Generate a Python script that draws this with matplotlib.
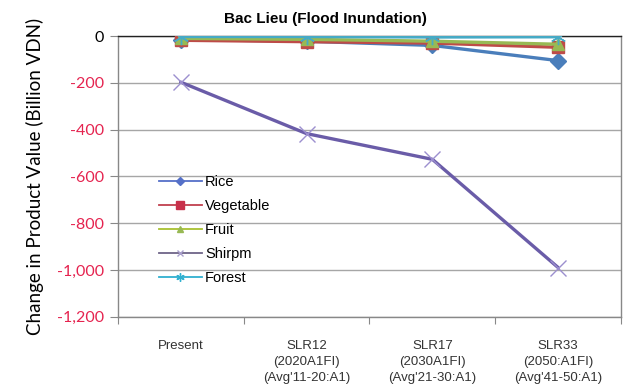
import matplotlib
matplotlib.use("Agg")
import matplotlib.pyplot as plt
from matplotlib.lines import Line2D
from matplotlib.ticker import FuncFormatter

# Scenario categories and change in product value (billion VND)
categories = ["Present",
              "SLR12\n(2020A1FI)\n(Avg'11-20:A1)",
              "SLR17\n(2030A1FI)\n(Avg'21-30:A1)",
              "SLR33\n(2050:A1FI)\n(Avg'41-50:A1)"]
rice = [-15, -22, -40, -105]
vegetable = [-18, -24, -30, -48]
fruit = [-10, -14, -22, -35]
shrimp = [-197, -417, -527, -990]
forest = [-2, -2, -4, -3]
series_names = ["Rice", "Vegetable", "Fruit", "Shirpm", "Forest"]
y_ticks = [0, -200, -400, -600, -800, -1000, -1200]

fig = plt.figure(figsize=(6.23, 3.92), dpi=100)
ax = fig.add_axes([0.189, 0.192, 0.808, 0.716])

x = list(range(len(categories)))
styles = [
    (rice, "#4a7ebb", "D", 8, "#4a7ebb"),
    (vegetable, "#be4b48", "s", 9, "#be4b48"),
    (fruit, "#98b954", "^", 9, "#98b954"),
    (shrimp, "#6a5ca8", "x", 11, "#9c8fcf"),
    (forest, "#46aac5", (6, 2, 0), 11, "#46aac5"),
]
for (vals, col, mk, ms, mcol) in styles:
    ax.plot(x, vals, color=col, lw=2.4, marker=mk, markersize=ms,
            markerfacecolor=mcol, markeredgecolor=mcol, markeredgewidth=1.0,
            solid_capstyle="round", zorder=3)

ax.set_xlim(-0.5, len(categories) - 0.5)
ax.set_ylim(-1200, 0)
ax.set_yticks(y_ticks)
ax.yaxis.set_major_formatter(FuncFormatter(lambda v, p: f"{int(v):,}"))
ax.grid(axis="y", color="#a6a6a6", lw=1.0, zorder=0)
ax.set_axisbelow(True)

# category boundary ticks on the x axis
ax.set_xticks([i - 0.5 for i in range(len(categories) + 1)])
ax.set_xticklabels([])
ax.set_xticks(x, minor=True)
ax.set_xticklabels(categories, minor=True, fontsize=9.5, color="#333333",
                   family=["Liberation Sans", "DejaVu Sans"], linespacing=1.45)
ax.tick_params(axis="x", which="minor", length=0, pad=17)
ax.tick_params(axis="x", which="major", length=5, color="#888888")
ax.tick_params(axis="y", length=6, color="#888888", pad=4)

for lbl in ax.get_yticklabels():
    lbl.set_family(["Lato", "DejaVu Sans"])
    lbl.set_fontsize(11.5)
for lbl, v in zip(ax.get_yticklabels(), y_ticks):
    lbl.set_color("#000000" if v == 0 else "#e5234f")

for side in ["left", "bottom", "right"]:
    ax.spines[side].set_color("#888888")
    ax.spines[side].set_linewidth(1.0)
ax.spines["top"].set_color("#222222")
ax.spines["top"].set_linewidth(1.0)

ax.set_ylabel("Change in Product Value (Billion VDN)", fontsize=13.5,
              family=["Lato", "DejaVu Sans"], labelpad=9)

fig.text(0.522, 0.952, "Bac Lieu (Flood Inundation)", ha="center", va="center",
         fontsize=11, fontweight="bold",
         family=["Liberation Sans Narrow", "Liberation Sans", "DejaVu Sans"])

# legend with thin handles
handles = [
    Line2D([], [], color="#5570c8", lw=1.3, marker="D", ms=4, mfc="#5570c8", mec="#5570c8"),
    Line2D([], [], color="#c0404e", lw=1.3, marker="s", ms=6, mfc="#c8304a", mec="#c8304a"),
    Line2D([], [], color="#a8c030", lw=1.3, marker="^", ms=4, mfc="#98b954", mec="#98b954"),
    Line2D([], [], color="#6e6488", lw=1.3, marker="x", ms=5, mfc="#a99fcc", mec="#a99fcc"),
    Line2D([], [], color="#30b0d0", lw=1.3, marker=(6, 2, 0), ms=6, mfc="#30b0d0", mec="#30b0d0"),
]
ax.legend(handles, series_names, loc="upper left", bbox_to_anchor=(0.055, 0.55),
          frameon=False, handlelength=3.0, handletextpad=0.2,
          labelspacing=0.68, prop={"family": ["Liberation Sans", "DejaVu Sans"], "size": 10.5})

fig.savefig("out.png", dpi=100)
